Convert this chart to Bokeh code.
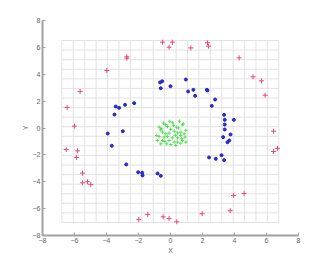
import numpy as np
from bokeh.plotting import figure
from bokeh.embed import file_html
from bokeh.resources import INLINE
from bokeh.models import FixedTicker

# ---- data ----
red_x = [-2.73, -2.73, -3.98, -5.65, -6.46, -6.00, -0.50, 0.12, -0.09, 1.27, 2.31, 2.37, 4.29,
         5.16, 5.69, 5.91, 6.44, 6.44, 6.69, 4.60, 3.94, 3.73, 1.98, 0.39, -0.09, -0.46,
         -1.42, -1.98, -4.98, -5.19, -5.50, -5.50, -5.88, -5.81, -6.52]
red_y = [5.30, 5.20, 4.28, 2.72, 1.53, 0.14, 6.39, 6.39, 6.01, 5.96, 6.34, 6.09, 5.22,
         3.81, 3.51, 2.44, -0.24, -1.75, -1.52, -4.87, -5.02, -6.16, -6.38, -6.98, -6.73, -6.61,
         -6.43, -6.81, -4.20, -4.00, -4.08, -3.36, -2.19, -1.70, -1.60]

blue_x = [-0.65, -0.52, -0.61, 0.00, 0.96, 1.10, 1.43, 1.54, 2.27, 2.31, 2.79, 2.58, 3.35,
          3.39, 3.96, 3.39, 3.39, 3.75, 3.29, 3.67, 3.56, 3.19, 2.41, 2.83, 3.35, -0.61,
          -0.81, -1.75, -1.77, -2.02, -2.77, -3.67, -3.92, -2.98, -3.50, -3.42, -3.21, -2.84, -2.27]
blue_y = [3.39, 3.48, 2.96, 3.11, 3.61, 2.72, 2.84, 2.40, 2.84, 2.80, 2.12, 1.65, 0.98,
          0.61, 0.61, 0.26, -0.11, -0.48, -0.68, -0.93, -1.06, -2.02, -2.19, -2.29, -2.39, -3.56,
          -3.38, -3.53, -3.33, -3.29, -2.71, -1.32, -0.41, -0.24, 1.00, 1.60, 1.50, 1.73, 1.85]

green_x = [-0.44, 0.12, 0.56, 0.79, -0.71, -0.61, -0.19, 0.19, 0.37, 0.75, 0.96, -0.50,
           -0.29, -0.09, 0.23, 0.44, 0.64, 0.85, 0.91, -0.86, -0.71, -0.40, -0.19, 0.12,
           0.44, 0.64, -0.82, -0.50, -0.09, 0.23, 0.44, 0.75, -0.61, -0.23, 0.02, 0.33,
           0.64, 0.96, -0.30, 0.00, 0.50, -0.05, 0.30, -0.55, 0.70, -0.35]
green_y = [0.36, 0.39, 0.51, 0.31, 0.06, -0.14, 0.11, 0.19, 0.06, 0.24, -0.18, -0.31,
           -0.43, -0.38, -0.24, -0.36, -0.31, -0.43, -0.68, -0.56, -0.63, -0.68, -0.63, -0.73,
           -0.73, -0.56, -0.93, -0.93, -0.93, -1.05, -1.05, -0.93, -1.18, -1.18, -1.23, -1.30,
           -1.13, -1.05, 0.25, -0.10, 0.00, 0.50, -0.55, -0.05, -0.80, -1.00]

x_ticks = [-8, -6, -4, -2, 0, 2, 4, 6, 8]
y_ticks = [-8, -6, -4, -2, 0, 2, 4, 6, 8]

p = figure(width=330, height=264, x_range=(-8, 8), y_range=(-8, 8),
           output_backend="svg", toolbar_location=None,
           min_border_left=42, min_border_right=32, min_border_top=20, min_border_bottom=29)
p.outline_line_color = None
p.grid.visible = False
p.background_fill_color = "white"
p.border_fill_color = "white"

# faint mesh behind the points
gx = np.linspace(-6.79, 6.77, 20)
gy = np.linspace(-7.03, 6.51, 20)
p.segment(x0=gx, y0=[gy[0]] * len(gx), x1=gx, y1=[gy[-1]] * len(gx),
          line_color="#e2e2e2", line_width=1)
p.segment(x0=[gx[0]] * len(gy), y0=gy, x1=[gx[-1]] * len(gy), y1=gy,
          line_color="#e2e2e2", line_width=1)

p.scatter(red_x, red_y, marker="cross", size=5, line_color="#e8487a", line_width=1)
p.scatter(blue_x, blue_y, marker="circle", size=3, fill_color="#2a2ac0", line_color="#2a2ac0")
p.scatter(green_x, green_y, marker="cross", size=3.5, line_color="#4ade4a", line_width=0.9)

for ax, ticks in ((p.xaxis, x_ticks), (p.yaxis, y_ticks)):
    ax.ticker = FixedTicker(ticks=ticks)
    ax.axis_line_color = "#a0a0a0"
    ax.axis_line_width = 2
    ax.major_tick_line_color = "#a0a0a0"
    ax.major_tick_in = 3
    ax.major_tick_out = 0
    ax.minor_tick_line_color = None
    ax.major_label_text_font = "Liberation Sans"
    ax.major_label_text_font_size = "7px"
    ax.major_label_text_color = "#666666"
    ax.axis_label_text_font = "Liberation Sans"
    ax.axis_label_text_font_size = "7px"
    ax.axis_label_text_font_style = "normal"
    ax.axis_label_text_color = "#666666"
    ax.major_label_standoff = 2
    ax.axis_label_standoff = 1

p.xaxis.axis_label = "X"
p.yaxis.axis_label = "Y"

open("out.html", "w").write(file_html(p, INLINE))
